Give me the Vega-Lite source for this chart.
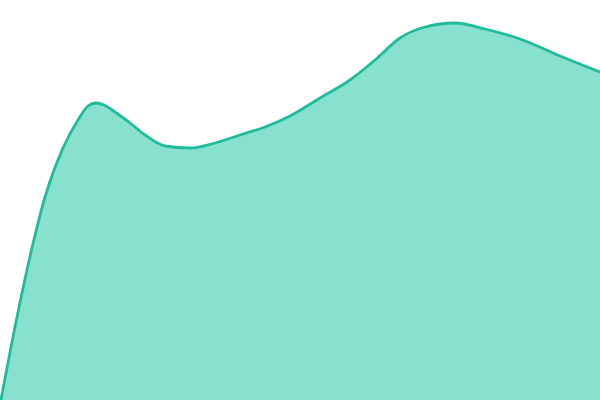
{
  "$schema": "https://vega.github.io/schema/vega-lite/v6.json",
  "width": 600,
  "height": 400,
  "autosize": "none",
  "padding": 0,
  "config": {"view": {"stroke": null}},
  "data": {
    "values": [
      {"x": 0, "v": -5},
      {"x": 17, "v": 83},
      {"x": 32, "v": 152},
      {"x": 45, "v": 203},
      {"x": 63, "v": 252},
      {"x": 78, "v": 280},
      {"x": 88, "v": 294},
      {"x": 96, "v": 297},
      {"x": 104, "v": 295},
      {"x": 115, "v": 288},
      {"x": 130, "v": 277},
      {"x": 145, "v": 265},
      {"x": 165, "v": 254},
      {"x": 190, "v": 252},
      {"x": 215, "v": 257},
      {"x": 240, "v": 265},
      {"x": 265, "v": 273},
      {"x": 290, "v": 284},
      {"x": 320, "v": 302},
      {"x": 350, "v": 320},
      {"x": 375, "v": 340},
      {"x": 400, "v": 362},
      {"x": 425, "v": 373},
      {"x": 455, "v": 377},
      {"x": 485, "v": 371},
      {"x": 520, "v": 361},
      {"x": 560, "v": 344},
      {"x": 600, "v": 328}
    ]
  },
  "mark": {
    "type": "area",
    "interpolate": "monotone",
    "color": "#88e0cf",
    "opacity": 1,
    "line": {"color": "#1fbc9c", "strokeWidth": 2.8}
  },
  "encoding": {
    "x": {"field": "x", "type": "quantitative", "axis": null, "scale": {"domain": [0, 600], "nice": false, "zero": false}},
    "y": {"field": "v", "type": "quantitative", "axis": null, "scale": {"domain": [0, 400], "nice": false}}
  }
}
